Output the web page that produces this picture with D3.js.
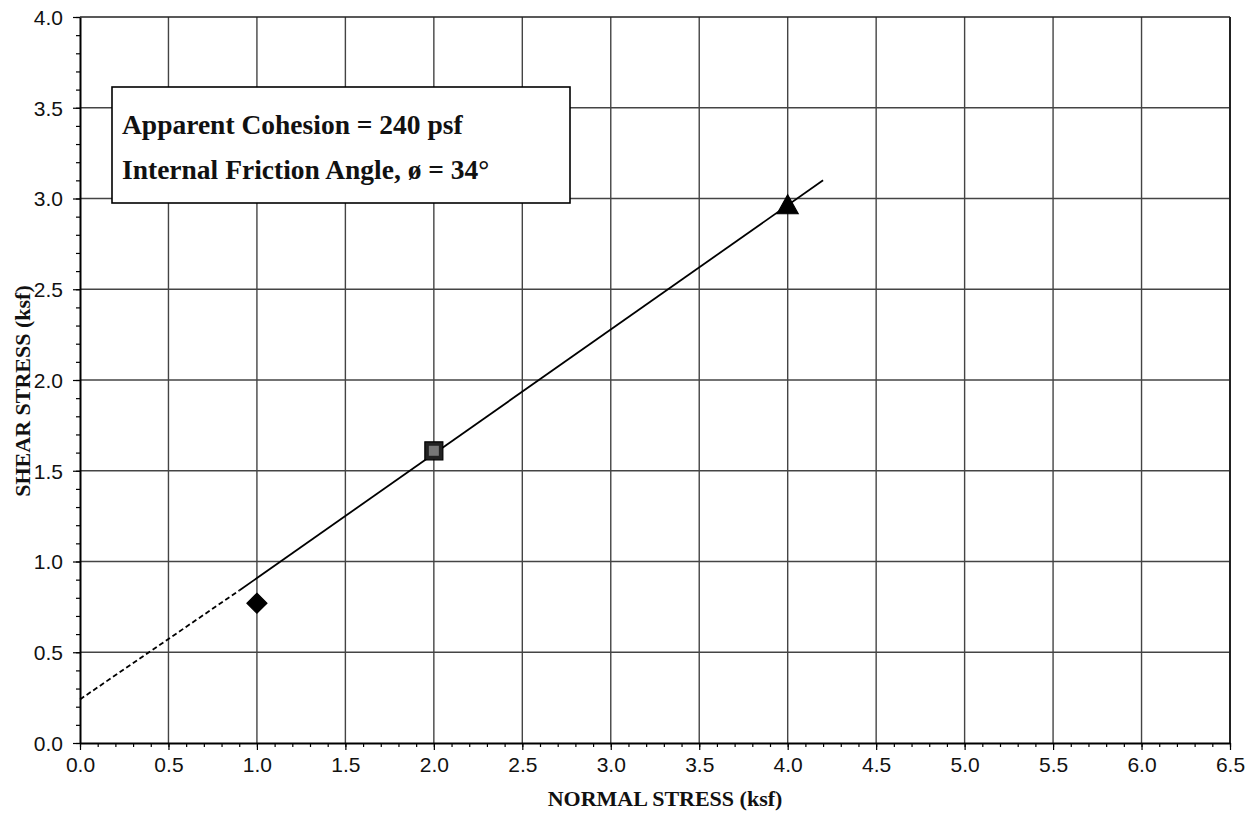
<!DOCTYPE html>
<html>
<head>
<meta charset="utf-8">
<script src="https://cdn.jsdelivr.net/npm/d3@7"></script>
<style>
  html, body { margin: 0; padding: 0; background: #fff; }
  svg { display: block; }
</style>
</head>
<body>
<svg id="chart" width="1259" height="819"></svg>
<script>
// ---- data ----
const xTickValues = [0, 0.5, 1.0, 1.5, 2.0, 2.5, 3.0, 3.5, 4.0, 4.5, 5.0, 5.5, 6.0, 6.5];
const xTickLabels = ["0.0","0.5","1.0","1.5","2.0","2.5","3.0","3.5","4.0","4.5","5.0","5.5","6.0","6.5"];
const yTickValues = [0, 0.5, 1.0, 1.5, 2.0, 2.5, 3.0, 3.5, 4.0];
const yTickLabels = ["0.0","0.5","1.0","1.5","2.0","2.5","3.0","3.5","4.0"];
const normalStress = [1.0, 2.0, 4.0];
const shearStress = [0.77, 1.61, 2.96];
const markerShapes = ["diamond", "square", "triangle"];
const fitDashed = [[0, 0.24], [0.9, 0.84]];
const fitSolid = [[0.9, 0.84], [4.2, 3.10]];
const noteLines = ["Apparent Cohesion = 240 psf", "Internal Friction Angle, \u00f8 = 34\u00b0"];
const xTitle = "NORMAL STRESS (ksf)";
const yTitle = "SHEAR STRESS (ksf)";

// ---- layout ----
const L = 80, R = 1230, T = 17, B = 743;
const svg = d3.select("#chart");
const x = d3.scaleLinear().domain([0, 6.5]).range([L, R]);
const y = d3.scaleLinear().domain([0, 4.0]).range([B, T]);

// grid
const grid = svg.append("g");
grid.selectAll("line.vx").data(xTickValues.filter(v => v > 0 && v < 6.5)).enter().append("line")
  .attr("x1", d => x(d)).attr("x2", d => x(d)).attr("y1", T).attr("y2", B)
  .attr("stroke", "#444").attr("stroke-width", 1.4);
grid.selectAll("line.hy").data(yTickValues.filter(v => v > 0 && v < 4)).enter().append("line")
  .attr("x1", L).attr("x2", R).attr("y1", d => y(d)).attr("y2", d => y(d))
  .attr("stroke", "#444").attr("stroke-width", 1.4);

// frame top/right
svg.append("line").attr("x1", L).attr("x2", R).attr("y1", T).attr("y2", T).attr("stroke", "#222").attr("stroke-width", 1.5);
svg.append("line").attr("x1", R).attr("x2", R).attr("y1", T).attr("y2", B).attr("stroke", "#222").attr("stroke-width", 2);

// axes
const xMinor = d3.range(0, 65.5, 1).map(v => v / 10);
const yMinor = d3.range(0, 40.5, 1).map(v => v / 10);

const xAxis = d3.axisBottom(x).tickValues(xTickValues).tickFormat((d, i) => xTickLabels[i]).tickSize(7).tickSizeOuter(0);
const yAxis = d3.axisLeft(y).tickValues(yTickValues).tickFormat((d, i) => yTickLabels[i]).tickSize(7).tickSizeOuter(0);

const gx = svg.append("g").attr("transform", `translate(0,${B})`).call(xAxis);
const gy = svg.append("g").attr("transform", `translate(${L},0)`).call(yAxis);

svg.append("g").attr("transform", `translate(0,${B})`)
  .call(d3.axisBottom(x).tickValues(xMinor).tickFormat("").tickSize(4).tickSizeOuter(0))
  .select(".domain").remove();
svg.append("g").attr("transform", `translate(${L},0)`)
  .call(d3.axisLeft(y).tickValues(yMinor).tickFormat("").tickSize(4).tickSizeOuter(0))
  .select(".domain").remove();

svg.selectAll(".domain").attr("stroke", "#000").attr("stroke-width", 2);
svg.selectAll(".tick line").attr("stroke", "#000").attr("stroke-width", 1.2);
gx.selectAll(".tick text").attr("font-family", "Liberation Sans, Arial, sans-serif")
  .style("font-size", "21px").attr("fill", "#111").attr("y", 14).attr("dy", "0.71em");
gy.selectAll(".tick text").attr("font-family", "Liberation Sans, Arial, sans-serif")
  .style("font-size", "21px").attr("fill", "#111").attr("x", -17).attr("dy", "0.35em");

// fit line
const line = d3.line().x(d => x(d[0])).y(d => y(d[1]));
svg.append("path").datum(fitDashed).attr("d", line).attr("fill", "none")
  .attr("stroke", "#000").attr("stroke-width", 1.8).attr("stroke-dasharray", "5,3");
svg.append("path").datum(fitSolid).attr("d", line).attr("fill", "none")
  .attr("stroke", "#000").attr("stroke-width", 1.8);

// markers
function markerPath(s) {
  if (s === "diamond") return "M0,-10L10,0L0,10L-10,0Z";
  if (s === "square") return "M-9,-9H9V9H-9Z";
  return "M0,-11L10.5,8L-10.5,8Z";
}
const pts = svg.selectAll("g.pt").data(normalStress.map((v, i) => ({ x: v, y: shearStress[i], s: markerShapes[i] })))
  .enter().append("g")
  .attr("transform", d => `translate(${x(d.x)},${y(d.y)})`);
pts.append("path").attr("d", d => markerPath(d.s))
  .attr("fill", d => d.s === "square" ? "#222" : "#000")
  .attr("stroke", "#000").attr("stroke-width", 1.2);
pts.filter(d => d.s === "square").append("rect")
  .attr("x", -5).attr("y", -5).attr("width", 10).attr("height", 10)
  .attr("fill", "#777");

// note box
const boxX = 112, boxY = 87, boxW = 458, boxH = 116;
svg.append("rect").attr("x", boxX).attr("y", boxY).attr("width", boxW).attr("height", boxH)
  .attr("fill", "#fff").attr("stroke", "#000").attr("stroke-width", 1.6);
svg.selectAll("text.note").data(noteLines).enter().append("text")
  .attr("x", boxX + 10).attr("y", (d, i) => boxY + 47 + i * 45)
  .attr("font-family", "Liberation Serif, Times New Roman, serif").attr("font-weight", "bold")
  .attr("font-size", 27.5).attr("fill", "#111").text(d => d);

// titles
svg.append("text").attr("x", 665).attr("y", 806).attr("text-anchor", "middle")
  .attr("font-family", "Liberation Serif, Times New Roman, serif").attr("font-weight", "bold")
  .attr("font-size", 22).attr("fill", "#111").text(xTitle);
svg.append("text").attr("transform", `translate(30,391) rotate(-90)`).attr("text-anchor", "middle")
  .attr("font-family", "Liberation Serif, Times New Roman, serif").attr("font-weight", "bold")
  .attr("font-size", 22).attr("fill", "#111").text(yTitle);
</script>
</body>
</html>
